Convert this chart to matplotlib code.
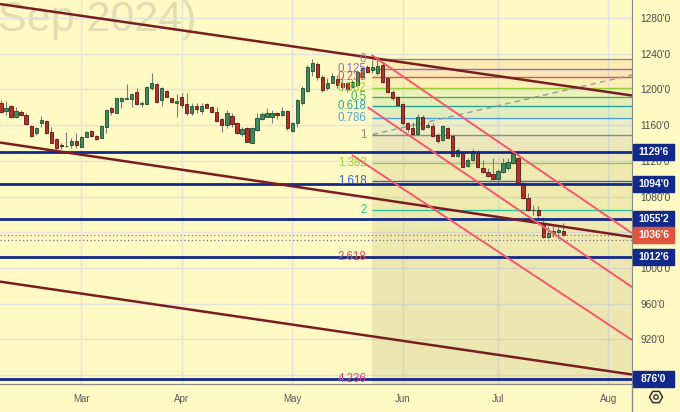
import numpy as np
import matplotlib
matplotlib.use('Agg')
import matplotlib.pyplot as plt
from matplotlib.patches import Rectangle, RegularPolygon, Circle
import matplotlib.transforms as mtrans

plt.rcParams['font.family'] = ['Liberation Sans', 'DejaVu Sans']

# ---------------- data ----------------
opens = [1185.0,1176.25,1181.75,1168.75,1174.5,1171.5,1159.0,1150.75,1162.0,1164.5,
1152.75,1144.0,1137.75,1136.25,1137.75,1142.25,1136.0,1147.0,1153.5,1147.75,
1146.0,1158.25,1179.5,1174.0,1187.5,1189.25,1189.0,1196.75,1183.25,1184.0,
1201.25,1205.75,1188.25,1198.25,1190.0,1184.5,1191.25,1183.25,1173.25,1181.5,
1176.25,1183.75,1180.25,1175.0,1166.5,1160.25,1170.25,1162.0,1150.0,1156.5,
1140.25,1154.5,1167.0,1169.5,1169.5,1173.25,1171.5,1176.25,1153.75,1162.5,
1184.75,1198.5,1221.0,1228.25,1213.5,1201.25,1207.5,1211.5,1207.5,1207.0,
1203.0,1205.0,1214.25,1225.5,1221.75,1218.0,1227.5,1212.5,1197.5,1191.25,
1183.75,1162.0,1156.5,1149.75,1169.5,1157.5,1159.0,1149.0,1143.5,1156.5,
1147.75,1125.75,1128.5,1114.25,1121.0,1130.25,1111.5,1108.0,1105.0,1099.5,
1108.0,1111.5,1117.25,1123.0,1094.75,1078.0,1065.25,1065.0,1050.0,1034.25,
1038.75,1040.5,1041.75]
highs = [1188.25,1187.0,1182.5,1180.75,1177.0,1173.25,1160.25,1158.25,1170.25,1165.75,
1158.25,1145.25,1139.5,1152.75,1145.25,1150.75,1147.75,1153.75,1154.5,1149.0,
1160.25,1177.75,1180.75,1190.75,1192.0,1205.75,1195.75,1201.25,1187.0,1204.25,
1218.75,1207.0,1202.5,1199.5,1190.75,1194.5,1196.25,1195.75,1185.0,1184.5,
1185.0,1185.0,1181.75,1180.75,1167.5,1177.0,1173.25,1163.75,1158.25,1158.25,
1158.25,1173.25,1175.0,1179.0,1177.0,1175.0,1180.75,1177.0,1163.75,1189.25,
1203.75,1227.5,1233.75,1230.75,1216.25,1212.75,1218.0,1216.25,1214.25,1208.75,
1210.5,1221.75,1225.5,1227.5,1233.0,1234.0,1230.75,1214.25,1199.5,1192.5,
1184.75,1163.75,1163.75,1172.5,1171.5,1163.25,1162.0,1150.75,1160.25,1157.5,
1149.0,1134.0,1131.5,1122.75,1133.0,1132.0,1121.0,1111.5,1123.0,1110.5,
1123.0,1123.0,1129.0,1124.0,1096.5,1083.5,1070.5,1069.5,1056.75,1047.0,
1047.0,1046.25,1050.75]
lows = [1173.5,1171.5,1168.0,1168.5,1170.25,1160.25,1146.5,1149.0,1158.25,1150.0,
1139.5,1133.0,1133.0,1135.25,1134.0,1134.0,1135.25,1146.5,1146.75,1143.5,
1145.25,1150.75,1171.5,1173.25,1179.5,1189.0,1180.0,1182.5,1180.75,1183.25,
1199.5,1185.0,1181.75,1191.25,1184.5,1169.5,1179.0,1171.5,1171.5,1173.25,
1172.5,1179.0,1173.25,1163.25,1152.75,1156.5,1158.25,1150.0,1147.75,1140.75,
1139.5,1153.75,1165.75,1168.75,1162.0,1166.5,1170.25,1154.5,1152.75,1158.0,
1182.5,1197.0,1215.0,1210.5,1197.0,1199.5,1207.0,1201.25,1199.5,1197.5,
1201.25,1203.0,1212.5,1218.0,1218.5,1216.25,1207.25,1195.75,1188.25,1181.5,
1160.25,1152.75,1149.0,1149.0,1154.5,1157.0,1147.0,1139.5,1142.5,1145.25,
1125.5,1124.5,1112.75,1112.75,1120.25,1111.5,1106.0,1101.5,1098.5,1095.5,
1106.0,1109.75,1116.5,1094.0,1077.0,1064.0,1059.25,1055.5,1033.25,1033.25,
1035.0,1032.0,1036.0]
closes = [1175.0,1179.5,1168.75,1176.25,1171.5,1161.25,1147.75,1156.5,1165.75,1150.75,
1140.25,1134.75,1136.5,1137.0,1142.25,1137.75,1146.5,1152.75,1147.75,1144.5,
1159.0,1177.0,1175.0,1190.0,1190.75,1190.0,1195.0,1183.25,1184.5,1203.0,
1207.0,1186.25,1201.25,1191.75,1185.5,1187.5,1182.5,1174.0,1181.5,1178.5,
1181.5,1179.5,1174.5,1164.5,1160.25,1173.25,1161.0,1151.5,1155.25,1141.5,
1156.5,1167.75,1172.0,1173.25,1173.25,1171.5,1175.75,1156.5,1162.0,1188.25,
1201.5,1225.5,1229.25,1213.5,1199.5,1207.5,1215.0,1205.0,1202.5,1200.0,
1208.0,1220.0,1223.75,1220.0,1225.0,1226.25,1208.75,1197.5,1190.0,1183.0,
1162.0,1155.25,1150.0,1168.75,1155.75,1160.25,1148.25,1142.25,1159.0,1146.0,
1125.75,1132.0,1113.5,1121.0,1131.5,1112.75,1107.5,1103.5,1099.5,1109.0,
1117.25,1119.0,1127.75,1095.5,1078.0,1065.0,1064.5,1059.25,1034.25,1038.75,
1041.75,1042.5,1036.75]

month_labels = ['Mar', 'Apr', 'May', 'Jun', 'Jul', 'Aug']
month_start_bar = [16, 36, 58, 80, 99, 121]

price_ticks = list(range(880, 1281, 40))
h_levels = [1129.75, 1094.0, 1055.25, 1012.75, 876.0]
last_price = 1036.75
grey_dotted_price = 1031.25

fib_levels = [0, 0.125, 0.236, 0.382, 0.5, 0.618, 0.786, 1, 1.382, 1.618, 2, 2.618, 4.236]
fib_labels = ['0', '0.125', '0.236', '0.382', '0.5', '0.618', '0.786', '1',
              '1.382', '1.618', '2', '2.618', '4.236']
fib_price0 = 1234.0
fib_price1 = 1149.5
fib_start_bar = 74

maroon_lines = [((-0.2, 1295.7), (125.7, 1193.2)),
                ((-0.2, 1140.5), (125.7, 1034.7)),
                ((-0.2, 984.7), (125.7, 880.6))]
pink_rays = [((73.8, 1238.6), (125.7, 1039.0)),
             ((73.0, 1180.3), (125.7, 978.6)),
             ((69.9, 1126.5), (125.7, 919.3))]
dashed_ray = ((74.0, 1149.5), (125.7, 1216.2))

watermark = 'Sep 2024)'

# ---------------- style ----------------
BG = '#fff9c4'
NAVY = '#10298a'
MAROON = '#7a1d22'
PINK = '#f4566c'
RED_BOX = '#e0533d'
fib_colors = ['#8a8a8a', '#8e6cc9', '#d9534f', '#9acd32', '#4caf50', '#26a69a',
              '#4fa3e0', '#8a8a8a', '#9acd32', '#3a5fd0', '#2ec4a0', '#e05050', '#e0409a']
band_colors = ['#f3a35a', '#e08a6a', '#e8c070', '#8fd080', '#60c070', '#40b0a0',
               '#80b0d0', '#8a8a8a', '#9a9a40', '#a0a040', '#9a9a50', '#8a8a50']

W, H = 680, 412
fig = plt.figure(figsize=(W / 100, H / 100), dpi=100, facecolor=BG)
ax = fig.add_axes([0, 28 / H, 632 / W, 384 / H])
ax.set_facecolor(BG)
xmin, xmax = -0.2, 125.7
ymin, ymax = 870.0, 1300.2
ax.set_xlim(xmin, xmax)
ax.set_ylim(ymin, ymax)

# grid
ax.set_yticks(price_ticks)
ax.set_xticks(month_start_bar)
ax.set_xticklabels(month_labels)
ax.grid(True, color='#e5e4dc', lw=1.0, zorder=0)
ax.set_axisbelow(True)

def fmt_price(v):
    whole = int(np.floor(v + 1e-9))
    eighth = int(round((v - whole) * 8))
    return f"{whole}'{eighth}"

ax.yaxis.tick_right()
ax.set_yticklabels([fmt_price(v) for v in price_ticks])
ax.tick_params(axis='y', length=0, pad=6, labelsize=7.3, labelcolor='#4a4a4a')
ax.tick_params(axis='x', length=0, pad=7, labelsize=7, labelcolor='#5a5a5a')
for s in ['left', 'top']:
    ax.spines[s].set_visible(False)
ax.spines['right'].set_color('#8a8a84')
ax.spines['bottom'].set_color('#8a8a84')

# watermark
ax.text(-2 / 632, (384 - 31) / 384, watermark, transform=ax.transAxes,
        fontsize=31, color='#e2dcb2', va='baseline', ha='left', zorder=0.5)

# fib shading & lines
fib_prices = [fib_price0 + lv * (fib_price1 - fib_price0) for lv in fib_levels]
xr = xmax + 5
for k in range(len(fib_prices) - 1):
    ax.fill_between([fib_start_bar, xr], fib_prices[k], fib_prices[k + 1],
                    color=band_colors[k], alpha=0.16, lw=0, zorder=1)
ax.fill_between([fib_start_bar, xr], fib_prices[-1], ymin - 5,
                color='#8a8a50', alpha=0.16, lw=0, zorder=1)
for p, col, lab in zip(fib_prices, fib_colors, fib_labels):
    ax.hlines(p, fib_start_bar, xr, color=col, lw=1.0, zorder=2)
    ax.annotate(lab, (fib_start_bar, p), xytext=(-6, 0), textcoords='offset pixels',
                ha='right', va='center', fontsize=8.3, color=col, zorder=6)

# horizontal levels
for lv in h_levels:
    ax.axhline(lv, color=NAVY, lw=2.0, zorder=4)
ax.axhline(last_price, color=RED_BOX, lw=0.9, ls=(0, (1, 2)), zorder=4)
ax.axhline(grey_dotted_price, color='#7a7a7a', lw=0.9, ls=(0, (1, 2)), zorder=4)

# candles
o = np.array(opens); c = np.array(closes); h = np.array(highs); l = np.array(lows)
idx = np.arange(len(o))
up = c >= o
ax.vlines(idx, l, h, color='#7c7c78', lw=0.8, zorder=3)
bb = np.minimum(o, c)
bh = np.maximum(np.abs(c - o), 0.9)
ax.bar(idx[up], bh[up], bottom=bb[up], width=0.64, color='#3e8a5c',
       edgecolor='#1e4d31', lw=0.6, zorder=3.5)
ax.bar(idx[~up], bh[~up], bottom=bb[~up], width=0.64, color='#b3302a',
       edgecolor='#5a1410', lw=0.6, zorder=3.5)

# trend lines
for (x0, y0), (x1, y1) in maroon_lines:
    ax.plot([x0, x1], [y0, y1], color=MAROON, lw=1.8, zorder=4.5, solid_capstyle='butt')
for (x0, y0), (x1, y1) in pink_rays:
    ax.plot([x0, x1], [y0, y1], color=PINK, lw=1.4, zorder=4.6, solid_capstyle='butt')
(x0, y0), (x1, y1) = dashed_ray
ax.plot([x0, x1], [y0, y1], color='#9a9a96', lw=1.0, ls=(0, (4, 3)), zorder=2.5)

# price boxes on axis
bt = mtrans.blended_transform_factory(ax.transAxes, ax.transData)
px_per_price = 384 / (ymax - ymin)
box_h = 16 / px_per_price
def price_box(v, col):
    r = Rectangle((633 / 632, v - box_h / 2), 41 / 632, box_h, transform=bt,
                  facecolor=col, edgecolor=col, clip_on=False, zorder=8)
    ax.add_patch(r)
    ax.text(653.5 / 632, v, fmt_price(v), transform=bt, ha='center', va='center',
            color='white', fontsize=7.4, fontweight='bold', clip_on=False, zorder=9)
for lv in h_levels:
    price_box(lv, NAVY)
price_box(last_price, RED_BOX)

# overlay: axis divider and settings icon
ov = fig.add_axes([0, 0, 1, 1], zorder=10)
ov.set_xlim(0, W); ov.set_ylim(H, 0); ov.axis('off'); ov.patch.set_alpha(0)
ov.plot([632, 632], [384, 412], color='#8a8a84', lw=1)
ov.add_patch(RegularPolygon((656, 397), 6, radius=6.5, orientation=np.pi / 6,
                            fill=False, ec='#333333', lw=1.1))
ov.add_patch(Circle((656, 397), 2.2, fill=False, ec='#333333', lw=1.0))

fig.savefig('out.png', dpi=100, facecolor=BG)
